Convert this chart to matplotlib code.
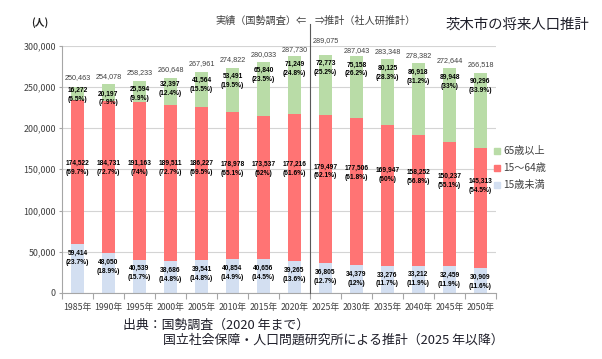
import matplotlib
matplotlib.use("Agg")
import matplotlib.pyplot as plt
from matplotlib.patches import Rectangle

plt.rcParams['font.family'] = ['Noto Sans CJK JP', 'DejaVu Sans']

# ---------------- data ----------------
years = [1985, 1990, 1995, 2000, 2005, 2010, 2015, 2020, 2025, 2030, 2035, 2040, 2045, 2050]
young = [59414, 48050, 40539, 38686, 39541, 40854, 40656, 39265, 36805, 34379, 33276, 33212, 32459, 30909]
working = [174522, 184731, 191163, 189511, 186227, 178978, 173537, 177216, 179497, 177506, 169947, 158252, 150237, 145313]
elderly = [16272, 20197, 25594, 32397, 41564, 53491, 65840, 71249, 72773, 75158, 80125, 86918, 89948, 90296]
totals = [250463, 254078, 258233, 260648, 267961, 274822, 280033, 287730, 289075, 287043, 283348, 278382, 272644, 266518]
young_pct = [23.7, 18.9, 15.7, 14.8, 14.8, 14.9, 14.5, 13.6, 12.7, 12, 11.7, 11.9, 11.9, 11.6]
working_pct = [69.7, 72.7, 74, 72.7, 69.5, 65.1, 62, 61.6, 62.1, 61.8, 60, 56.8, 55.1, 54.5]
elderly_pct = [6.5, 7.9, 9.9, 12.4, 15.5, 19.5, 23.5, 24.8, 25.2, 26.2, 28.3, 31.2, 33, 33.9]
series_names = ['65歳以上', '15～64歳', '15歳未満']
x_labels = [f'{y}年' for y in years]

# label anchor heights (layout, in data units)
young_lab_y = [43000, 31500, 24000, 22000, 23000, 24000, 24000, 22000, 19800, 17000, 16400, 17000, 15800, 13700]
working_lab_y = [152000, 151500, 151500, 151500, 151500, 150300, 150300, 150300, 147300, 146000, 143400, 140900, 135800, 130300]
elderly_lab_y = [240000, 235800, 241000, 247500, 252000, 257000, 264000, 271500, 273000, 271000, 267000, 262000, 256000, 251000]
total_lab_y = [260600, 262700, 267000, 270300, 278400, 283300, 288500, 295400, 305500, 294000, 292500, 288000, 282000, 276700]

c_green = '#B9DCA7'
c_red = '#FF7474'
c_blue = '#D3DFF1'
grey = '#404040'

W, H = 602, 359
fig = plt.figure(figsize=(W / 100, H / 100), dpi=100)
ax = fig.add_axes([62 / W, 1 - 293 / H, 434 / W, 247.5 / H])

xs = list(range(len(years)))
bw = 0.4
ax.bar(xs, young, width=bw, color=c_blue, zorder=2)
bottom2 = [a for a in young]
ax.bar(xs, working, width=bw, bottom=bottom2, color=c_red, zorder=2)
bottom3 = [a + b for a, b in zip(young, working)]
ax.bar(xs, elderly, width=bw, bottom=bottom3, color=c_green, zorder=2)

ax.set_xlim(-0.5, len(years) - 0.5)
ax.set_ylim(0, 300000)
ax.set_yticks(range(0, 300001, 50000))
ax.set_yticklabels([f'{v:,}' for v in range(0, 300001, 50000)], fontsize=6.4, color=grey)
ax.set_xticks(xs)
ax.set_xticklabels(x_labels, fontsize=6.3, color=grey)
ax.set_xticks([i - 0.5 for i in range(len(years) + 1)], minor=True)
ax.tick_params(axis='x', which='major', length=0, pad=7)
ax.tick_params(axis='x', which='minor', length=4, color='#a6a6a6', width=0.8)
ax.tick_params(axis='y', length=2.5, color='#a6a6a6', width=0.8, pad=2)
ax.grid(axis='y', color='#d4d4d4', lw=0.8, zorder=0)
ax.set_axisbelow(True)
for s in ['top', 'right']:
    ax.spines[s].set_visible(False)
for s in ['left', 'bottom']:
    ax.spines[s].set_color('#a6a6a6')
    ax.spines[s].set_linewidth(0.8)

lab_kw = dict(ha='center', va='center', fontsize=4.8, fontweight='bold',
              family=['Liberation Sans', 'DejaVu Sans'], color='black',
              linespacing=1.4, zorder=5, clip_on=False)
for i in xs:
    ax.text(i, young_lab_y[i], f'{young[i]:,}\n({young_pct[i]:g}%)', **lab_kw)
    ax.text(i, working_lab_y[i], f'{working[i]:,}\n({working_pct[i]:g}%)', **lab_kw)
    ax.text(i, elderly_lab_y[i], f'{elderly[i]:,}\n({elderly_pct[i]:g}%)', **lab_kw)
    ax.text(i, total_lab_y[i], f'{totals[i]:,}', ha='center', va='center', fontsize=5.2,
            family=['Liberation Sans', 'DejaVu Sans'], color=grey, zorder=5, clip_on=False)

# divider between census and projection
ax.plot([7.5, 7.5], [0, 326000], color='#595959', lw=0.8, clip_on=False, zorder=4)

def ft(x, y, s, **kw):
    fig.text(x / W, 1 - y / H, s, **kw)

ft(40, 23, '(人)', fontsize=7, fontweight='bold', color='#202020', ha='center', va='center')
ft(215, 21, '実績（国勢調査）⇐', fontsize=7.3, color=grey, ha='left', va='center')
ft(315, 21, '⇒推計（社人研推計）', fontsize=7.3, color=grey, ha='left', va='center')
ft(446, 25, '茨木市の将来人口推計', fontsize=10.4, color='#1f1f2a', ha='left', va='center')

# legend
cols = [c_green, c_red, c_blue]
for k, (nm, c) in enumerate(zip(series_names, cols)):
    yy = 151 + 17 * k
    fig.patches.append(Rectangle((494 / W, 1 - (yy + 3) / H), 6 / W, 6 / H,
                                 transform=fig.transFigure, color=c))
    ft(503, yy, nm, fontsize=7.3, color=grey, ha='left', va='center')

ft(123, 325, '出典：国勢調査（2020 年まで）', fontsize=9.3, color='#1f1f2a', ha='left', va='center')
ft(163, 340, '国立社会保障・人口問題研究所による推計（2025 年以降）', fontsize=9.3, color='#1f1f2a',
   ha='left', va='center')

fig.savefig('out.png', dpi=100)
